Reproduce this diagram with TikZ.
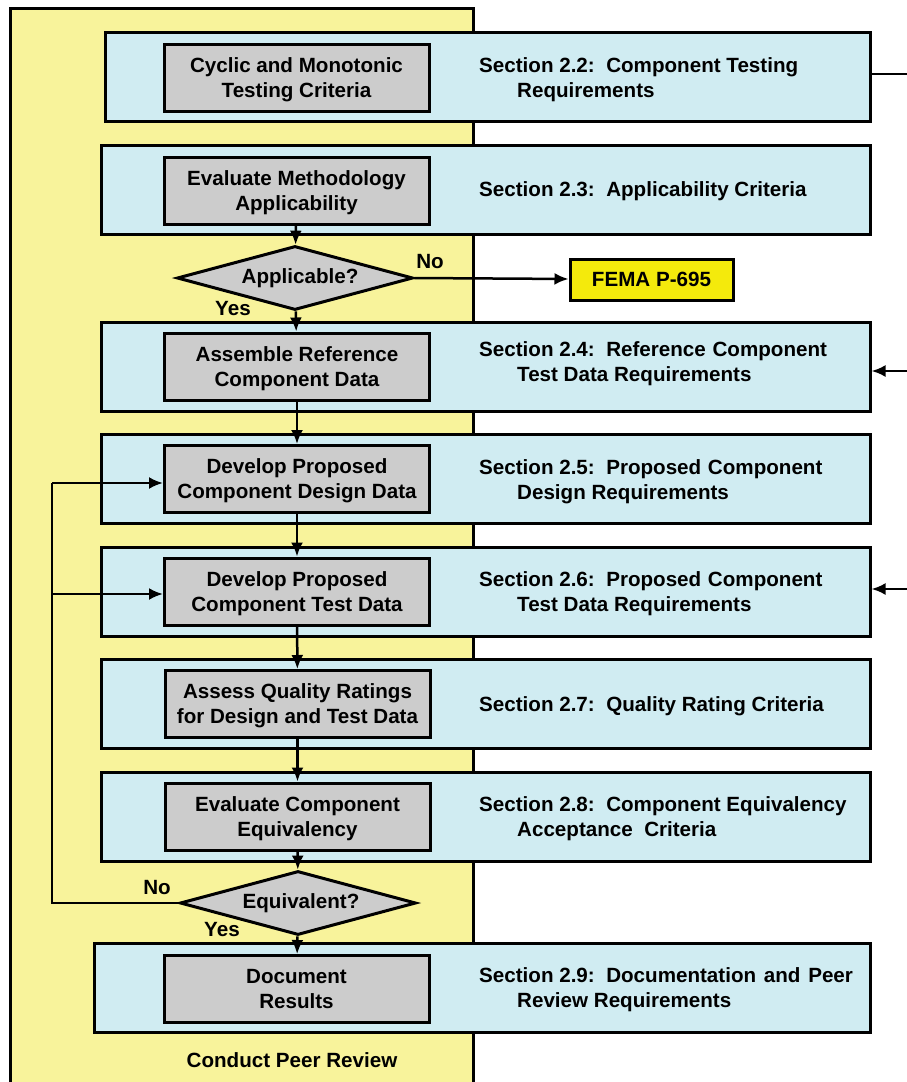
\documentclass[tikz,border=0pt]{standalone}
\usepackage{fontspec}
\setmainfont{Liberation Sans}
\usetikzlibrary{shapes.geometric,arrows.meta}
\definecolor{peeryellow}{RGB}{248,243,155}
\definecolor{secblue}{RGB}{208,236,242}
\definecolor{stepgray}{RGB}{204,204,204}
\definecolor{femayellow}{RGB}{244,234,12}

\begin{document}
\begin{tikzpicture}[x=1pt, y=-1pt,
    every node/.style={font=\fontsize{20.6}{25}\selectfont\bfseries},
    bluebox/.style={draw, line width=3pt, fill=secblue, minimum width=769pt, minimum height=89pt, inner sep=0pt},
    graybox/.style={draw, line width=3pt, fill=stepgray, minimum width=265pt, minimum height=67pt, inner sep=0pt, align=center, text depth=0pt},
    decision/.style={draw, diamond, line width=3pt, fill=stepgray, aspect=3.7, minimum width=236pt, minimum height=64pt, inner sep=0pt},
    sectext/.style={anchor=west, align=left, inner sep=0pt},
    arr/.style={line width=2.5pt, -{Latex[length=14pt,width=12pt]}}]

    \useasboundingbox (0,0) rectangle (907,1082);

    % peer review band
    \node[draw, line width=3pt, fill=peeryellow, minimum width=463pt, minimum height=1090pt, inner sep=0pt] (peer) at (241.5,553) {};
    \node (peerlbl) at (292,1060) {Conduct Peer Review};

    % section boxes
    \node[bluebox, minimum width=765pt] (s22) at (487.5,76.5) {};
    \node[bluebox] (s23) at (485.5,189.5) {};
    \node[bluebox] (s24) at (485.5,366.5) {};
    \node[bluebox] (s25) at (485.5,478.5) {};
    \node[bluebox] (s26) at (485.5,591.5) {};
    \node[bluebox] (s27) at (485.5,704) {};
    \node[bluebox] (s28) at (485.5,816.5) {};
    \node[bluebox, minimum width=776pt] (s29) at (482,987.5) {};

    \node[sectext] (t22) at (479,79.5) {Section 2.2:\ \ Component Testing\\\hspace*{38pt}Requirements};
    \node[sectext] (t23) at (479,191) {Section 2.3:\ \ Applicability Criteria};
    \node[sectext] (t24) at (479,364) {Section 2.4:\ \ Reference\ \hspace{1pt}Component\\\hspace*{38pt}Test Data Requirements};
    \node[sectext] (t25) at (479,482) {Section 2.5:\ \ Proposed\ \hspace{1pt}Component\\\hspace*{38pt}Design Requirements};
    \node[sectext] (t26) at (479,594) {Section 2.6:\ \ Proposed\ \hspace{1pt}Component\\\hspace*{38pt}Test Data Requirements};
    \node[sectext] (t27) at (479,706) {Section 2.7:\ \ Quality Rating Criteria};
    \node[sectext] (t28) at (479,819) {Section 2.8:\ \ Component Equivalency\\\hspace*{38pt}Acceptance\ \ Criteria};
    \node[sectext] (t29) at (479,990) {Section 2.9:\ \ Documentation\ \hspace{2pt}and\ \hspace{2pt}Peer\\\hspace*{38pt}Review Requirements};

    % process steps
    \node[graybox] (cyclic) at (296.5,77.5) {Cyclic and Monotonic\\Testing Criteria};
    \node[graybox] (method) at (296.5,190.5) {Evaluate Methodology\\Applicability};
    \node[decision] (applic) at (295,278) {\hspace*{10pt}Applicable?};
    \node[graybox] (refdata) at (297,366.5) {Assemble Reference\\Component Data};
    \node[graybox] (design) at (297,479) {Develop Proposed\\Component Design Data};
    \node[graybox] (testdata) at (297,591.5) {Develop Proposed\\Component Test Data};
    \node[graybox] (quality) at (297.5,704) {Assess Quality Ratings\\for Design and Test Data};
    \node[graybox] (equiv) at (297.5,816.5) {Evaluate Component\\Equivalency};
    \node[decision] (eqcheck) at (298,903) {\hspace*{6pt}Equivalent?};
    \node[graybox] (docres) at (296.5,989) {Document\\Results};

    \node[draw, line width=3pt, fill=femayellow, minimum width=163pt, minimum height=41pt, inner sep=0pt] (fema) at (651.5,279.5) {FEMA P-695};

    % flow
    \draw[arr] (method) -- (applic);
    \draw[arr] (applic) -- (refdata);
    \draw[arr] (applic.east) -- (fema);
    \draw[arr] (refdata) -- (design);
    \draw[arr] (design) -- (testdata);
    \draw[arr] (testdata) -- (quality);
    \draw[arr] (quality) -- (equiv);
    \draw[arr] (equiv) -- (eqcheck);
    \draw[arr] (eqcheck) -- (docres);

    \node (no1) at (430,262) {No};
    \node (yes1) at (233,309) {Yes};
    \node (no2) at (157,888) {No};
    \node (yes2) at (222,930) {Yes};

    % loop back when not equivalent
    \coordinate (loopup) at (52,483);
    \coordinate (loopmid) at (52,594);
    \draw[line width=2.5pt] (eqcheck.west) -| (loopup);
    \draw[arr] (loopup) -- (design.west |- loopup);
    \draw[arr] (loopmid) -- (testdata.west |- loopmid);

    % links to the right
    \coordinate (rtop) at (910,74);
    \coordinate (rref) at (910,371);
    \coordinate (rtest) at (910,589);
    \draw[line width=2.5pt] (s22.east |- rtop) -- (rtop);
    \draw[arr] (rref) -- (s24.east |- rref);
    \draw[arr] (rtest) -- (s26.east |- rtest);

\end{tikzpicture}
\end{document}
